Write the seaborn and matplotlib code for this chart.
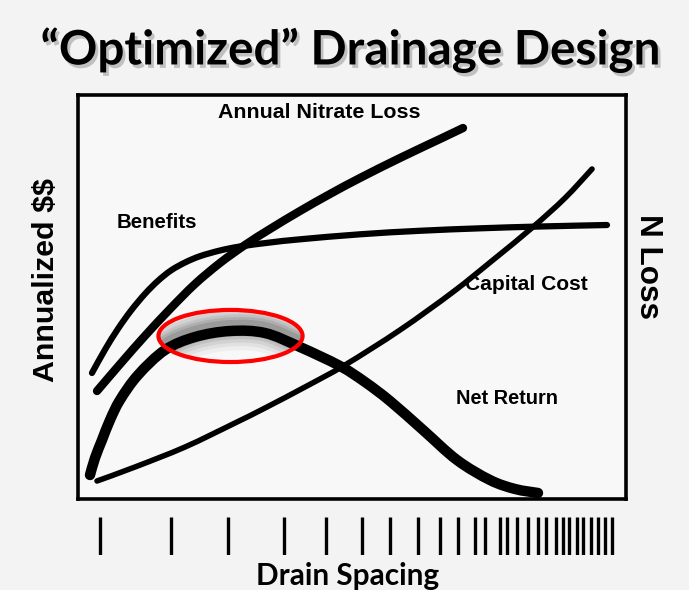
import numpy as np
import pandas as pd
import matplotlib
matplotlib.use("Agg")
import matplotlib.pyplot as plt
import seaborn as sns
from matplotlib.patches import Ellipse, PathPatch
from matplotlib.path import Path
import matplotlib.patheffects as pe
import matplotlib.transforms as mtransforms
from matplotlib import font_manager

# ---------------- data (unitless: drain spacing 0-100, annualized $$ 0-100) -------------
nitrate_x = [3.47, 7.85, 12.23, 16.79, 21.35, 25.91, 30.47, 35.04, 40.51, 45.99, 51.46, 58.76, 66.06, 70.26]
nitrate_y = [26.73, 33.66, 40.40, 47.03, 53.22, 58.42, 62.87, 66.83, 71.29, 75.50, 79.46, 84.41, 89.11, 91.83]

benefits_x = [2.55, 4.93, 7.30, 9.67, 12.23, 14.60, 16.97, 19.53, 22.26, 25.91, 29.56, 35.04,
              40.51, 51.46, 62.41, 73.36, 84.31, 96.53]
benefits_y = [31.19, 36.98, 42.13, 46.63, 50.79, 54.01, 56.58, 58.54, 60.10, 61.51, 62.50, 63.49,
              64.28, 65.52, 66.39, 67.00, 67.45, 67.82]

net_x = [2.19, 3.10, 4.38, 5.84, 7.66, 10.95, 15.88, 21.35, 27.74, 34.12, 40.51, 47.81, 52.37, 56.93, 62.96, 69.16, 75.18, 79.74, 83.94]
net_y = [5.94, 10.15, 14.60, 19.55, 24.50, 30.69, 36.88, 40.10, 41.58, 41.09, 37.62, 32.92, 28.96, 24.26, 17.08, 9.65, 4.70, 2.48, 1.49]

capital_x = [3.47, 10.40, 19.53, 28.65, 34.12, 41.42, 48.72, 58.76, 68.43, 75.73, 83.03, 88.87, 93.80]
capital_y = [4.46, 7.92, 12.87, 18.81, 22.52, 27.72, 33.17, 41.83, 51.24, 59.16, 67.33, 74.50, 81.68]

drain_spacing_marks = [4.01, 16.97, 27.37, 37.59, 45.26, 51.82, 56.93, 62.04, 66.06, 69.29, 72.45,
                       74.27, 77.01, 78.23, 80.16, 82.06, 83.89, 85.35, 87.17, 88.45, 89.65, 91.00,
                       92.21, 93.56, 94.95, 96.22, 97.39]

title = "\u201cOptimized\u201d Drainage Design"
x_label = "Drain Spacing"
y_label = "Annualized $$"
y2_label = "N Loss"
curve_labels = ["Annual Nitrate Loss", "Benefits", "Capital Cost", "Net Return"]

# ---------------- style -------------
sns.set_theme(style="white")
avail = {f.name for f in font_manager.fontManager.ttflist}


def pick(*names):
    for n in names:
        if n in avail:
            return n
    return "DejaVu Sans"


arial = pick("Liberation Sans", "Arial", "DejaVu Sans")
narrow = pick("Liberation Sans Narrow", "Lato", "Roboto", "DejaVu Sans")
plt.rcParams["font.family"] = [arial, "DejaVu Sans"]
plt.rcParams["text.parse_math"] = False

W, H = 689, 590
fig = plt.figure(figsize=(W / 100, H / 100), dpi=100, facecolor="#f3f3f3")


def fx(px):
    return px / W


def fy(py):
    return 1 - py / H


ax = fig.add_axes([fx(78), fy(499), 548 / W, 404 / H])
ax.set_facecolor("#f8f8f8")


def smooth_path(xs, ys):
    """Cubic Bezier path passing through the read points (Catmull-Rom tangents)."""
    P = np.column_stack([xs, ys]).astype(float)
    n = len(P)
    verts = [P[0]]
    codes = [Path.MOVETO]
    for i in range(n - 1):
        p0 = P[i - 1] if i > 0 else P[i]
        p1, p2 = P[i], P[i + 1]
        p3 = P[i + 2] if i + 2 < n else P[i + 1]
        verts += [p1 + (p2 - p0) / 6, p2 - (p3 - p1) / 6, p2]
        codes += [Path.CURVE4] * 3
    return Path(verts, codes)


def draw_curve(xs, ys, lw, zorder=3, **kw):
    patch = PathPatch(smooth_path(xs, ys), fill=False, edgecolor=kw.pop("color", "black"),
                      lw=lw, capstyle="round", joinstyle="round", zorder=zorder, **kw)
    ax.add_patch(patch)
    return patch


draw_curve(capital_x, capital_y, 4.0)
draw_curve(benefits_x, benefits_y, 4.5)
draw_curve(nitrate_x, nitrate_y, 6.0)

# glow / shadow on the optimum, clipped to the ellipse
ell_c, ell_w, ell_h = (27.83, 40.35), 26.3, 12.9
clip = Ellipse(ell_c, ell_w, ell_h, transform=ax.transData)
shift = mtransforms.offset_copy(ax.transData, fig=fig, x=0, y=4, units="dots")
for lw, a in [(34, 0.05), (28, 0.07), (23, 0.09), (18, 0.11), (14, 0.14), (10, 0.18)]:
    g = PathPatch(smooth_path(net_x, net_y), fill=False, edgecolor="0.25", lw=lw,
                  alpha=a, transform=shift, capstyle="butt", zorder=3)
    ax.add_patch(g)
    g.set_clip_path(clip)

draw_curve(net_x, net_y, 7.5, zorder=4)

ax.add_patch(Ellipse(ell_c, ell_w, ell_h, fill=False, edgecolor="#ff0000",
                     lw=3.0, zorder=6))

ax.set_xlim(0, 100)
ax.set_ylim(0, 100)
ax.set_xticks([])
ax.set_yticks([])
for s in ax.spines.values():
    s.set_color("black")
    s.set_linewidth(2.6)

# drain-spacing marks below the plot
ax2 = fig.add_axes([fx(78), fy(555), 548 / W, 38 / H])
ax2.set_facecolor("none")
sns.rugplot(x=drain_spacing_marks, ax=ax2, height=1.0, color="black", linewidth=2.4,
            expand_margins=False)
ax2.set_xlim(0, 100)
ax2.set_ylim(0, 1)
ax2.axis("off")

renderer = fig.canvas.get_renderer()


def fit(t, target, rotated=False):
    bb = t.get_window_extent(renderer)
    w = bb.height if rotated else bb.width
    t.set_fontsize(t.get_fontsize() * target / w)


# curve labels
lab_pos = [(319, 112, 201), (157, 222, 80), (526, 284, 122), (507, 398.5, 102)]
for txt, (px, py, wd) in zip(curve_labels, lab_pos):
    t = fig.text(fx(px), fy(py), txt, ha="center", va="center", fontsize=13,
                 fontweight="bold", color="black", zorder=5)
    fit(t, wd)

# axis labels
t = fig.text(fx(46), fy(280), y_label, rotation=90, ha="center", va="center",
             fontsize=20, fontweight="bold", color="black")
fit(t, 204, rotated=True)
t = fig.text(fx(648), fy(266), y2_label, rotation=-90, ha="center", va="center",
             fontsize=20, fontweight="bold", color="black")
fit(t, 105, rotated=True)
t = fig.text(fx(348), fy(576), x_label, ha="center", va="center",
             fontsize=20, fontweight="bold", color="black", family=[narrow, "DejaVu Sans"])
fit(t, 183)

# title with soft shadow
t = fig.text(fx(350), fy(50), title, ha="center", va="center", fontsize=34,
             fontweight="bold", color="black", family=[narrow, "DejaVu Sans"],
             path_effects=[pe.withSimplePatchShadow(offset=(2, -2.5), shadow_rgbFace="0.3", alpha=0.3)])
fit(t, 620)

fig.savefig("out.png", dpi=100, facecolor=fig.get_facecolor())
